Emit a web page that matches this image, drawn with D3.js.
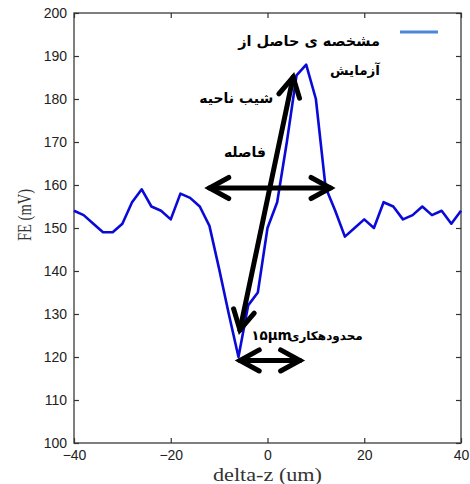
<!DOCTYPE html>
<html><head><meta charset="utf-8">
<script src="https://cdn.jsdelivr.net/npm/d3@7/dist/d3.min.js"></script>
<style>body{margin:0;background:#fff}svg{display:block}</style>
</head><body>
<svg id="c" width="470" height="484"></svg>
<script>
// data
const dz = [-40,-38,-36,-34,-32,-30,-28,-26,-24,-22,-20,-18,-16,-14,-12,-10,-8,-6,-4,-2,0,2,4,6,8,10,12,14,16,18,20,22,24,26,28,30,32,34,36,38,40];
const fe = [154,153,151,149,149,151,156,159,155,154,152,158,157,155,150.5,140.5,130,120,132,135,150,156,170,185.5,188,180,159.5,154,148,150,152,150,156,155,152,153,155,153,154,151,154];
const xTicks = [-40,-20,0,20,40];
const yTicks = [100,110,120,130,140,150,160,170,180,190,200];
const legendLabel = ["مشخصه ی حاصل از","آزمایش"];
// annotation arrows in data coords [x1,y1,x2,y2]
const arrows = [[-5.7,126.3,5.3,185.1],[-12,159.3,13,159.3],[-5.7,119.2,6.7,119.2]];
const notes = [
  {t:"شیب ناحیه", x:1.2, y:179, s:14},
  {t:"فاصله", x:-0.3, y:166.5, s:14},
  {t:"محدودهکاری", x:19.7, y:124, s:12},
];
const unitNote = {t:"۱۵μm", x:5.0, y:124};

const svg = d3.select("#c");
const L=74,R=461,T=13,B=443;
const x = d3.scaleLinear().domain([-40,40]).range([L,R]);
const y = d3.scaleLinear().domain([100,200]).range([B,T]);

// frame
svg.append("rect").attr("x",L).attr("y",T).attr("width",R-L).attr("height",B-T)
  .attr("fill","none").attr("stroke","#555").attr("stroke-width",1.5);

const tickStyle = g=>{g.select(".domain").remove();g.selectAll("line").attr("stroke","#333").attr("stroke-width",1.2);
  g.selectAll("text").attr("fill","#222").style("font-family","Liberation Sans, Arial, sans-serif").style("font-size","14px");};
svg.append("g").attr("transform",`translate(0,${B})`).call(d3.axisBottom(x).tickValues(xTicks).tickSize(-5).tickPadding(7)).call(tickStyle);
svg.append("g").attr("transform",`translate(0,${T})`).call(d3.axisTop(x).tickValues(xTicks).tickSize(-5).tickFormat("")).call(tickStyle);
svg.append("g").attr("transform",`translate(${L},0)`).call(d3.axisLeft(y).tickValues(yTicks).tickSize(-5).tickPadding(7)).call(tickStyle);
svg.append("g").attr("transform",`translate(${R},0)`).call(d3.axisRight(y).tickValues(yTicks).tickSize(-5).tickFormat("")).call(tickStyle);

// axis labels
svg.append("text").attr("x",x(0)).attr("y",481).attr("text-anchor","middle")
  .attr("textLength",109).attr("lengthAdjust","spacingAndGlyphs")
  .style("font-family","Liberation Serif, Times New Roman, serif").style("font-size","18px").attr("fill","#333").text("delta-z (um)");
svg.append("text").attr("transform","translate(31,215) rotate(-90)").attr("text-anchor","middle")
  .attr("textLength",52).attr("lengthAdjust","spacingAndGlyphs")
  .style("font-family","Liberation Serif, Times New Roman, serif").style("font-size","19px").attr("fill","#333").text("FE (mV)");

// data line
svg.append("path").datum(dz.map((d,i)=>[d,fe[i]]))
  .attr("d",d3.line().x(d=>x(d[0])).y(d=>y(d[1])))
  .attr("fill","none").attr("stroke","#0a0ad8").attr("stroke-width",2.6).attr("stroke-linejoin","round");

// legend
svg.append("line").attr("x1",400).attr("x2",438).attr("y1",32).attr("y2",32).attr("stroke","#4a86dc").attr("stroke-width",3);
const ar = "DejaVu Sans, sans-serif";
svg.append("text").attr("x",380).attr("y",46).attr("text-anchor","end").style("font-family",ar).style("font-weight","bold").style("font-size","14.5px").text(legendLabel[0]);
svg.append("text").attr("x",380).attr("y",75).attr("text-anchor","end").style("font-family",ar).style("font-weight","bold").style("font-size","13.5px").text(legendLabel[1]);

// arrows
function arrow(a){
  const [x1,y1,x2,y2]=[x(a[0]),y(a[1]),x(a[2]),y(a[3])];
  const g=svg.append("g").attr("stroke","#000").attr("stroke-width",5).attr("stroke-linecap","round").attr("fill","none");
  g.append("line").attr("x1",x1).attr("y1",y1).attr("x2",x2).attr("y2",y2);
  const ang=Math.atan2(y2-y1,x2-x1), len=22, spread=0.5;
  [[x1,y1,ang],[x2,y2,ang+Math.PI]].forEach(([px,py,an])=>{
    const p=`M${px+len*Math.cos(an+spread)},${py+len*Math.sin(an+spread)}L${px},${py}L${px+len*Math.cos(an-spread)},${py+len*Math.sin(an-spread)}`;
    g.append("path").attr("d",p).attr("stroke-linejoin","miter");
  });
}
arrows.forEach(arrow);

notes.forEach(n=>{
  svg.append("text").attr("x",x(n.x)).attr("y",y(n.y)).attr("text-anchor","end")
    .style("font-family",ar).style("font-weight","bold").style("font-size",n.s+"px").attr("fill","#000").text(n.t);
});
svg.append("text").attr("x",x(unitNote.x)).attr("y",y(unitNote.y)).attr("text-anchor","end")
  .style("font-family",ar).style("font-weight","bold").style("font-size","13.5px").attr("fill","#000").text(unitNote.t);
</script>
</body></html>
